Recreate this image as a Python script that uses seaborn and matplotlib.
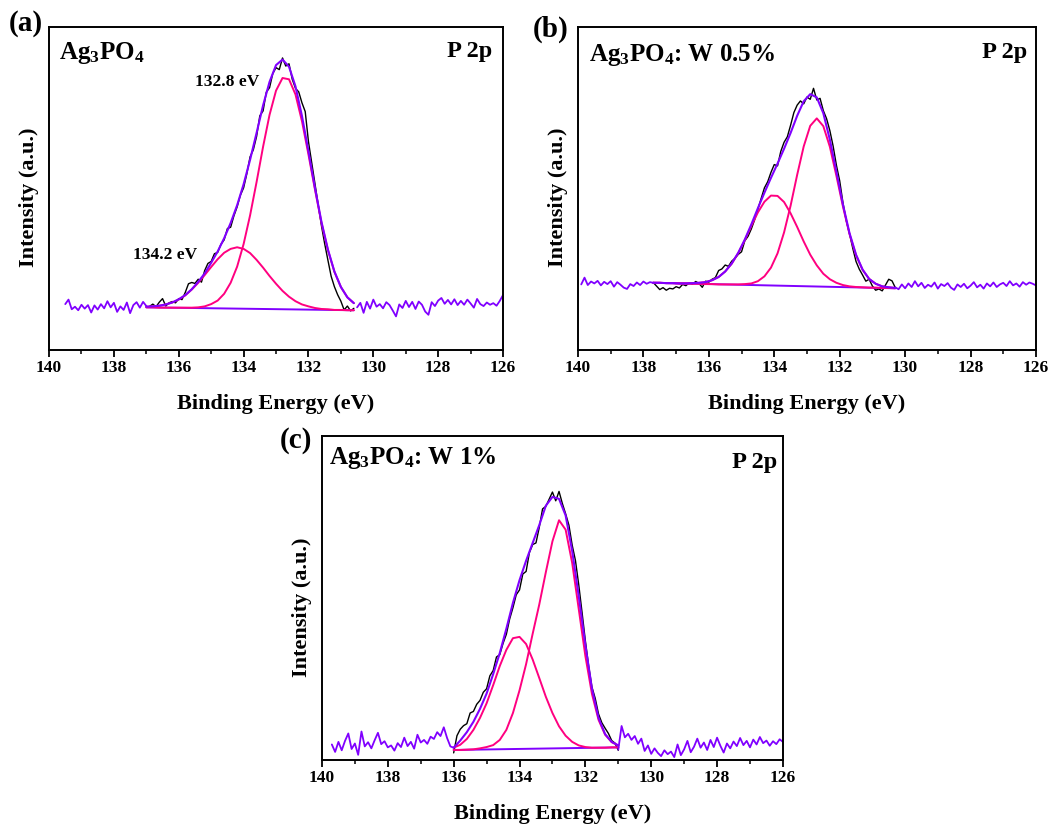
import numpy as np
import matplotlib
matplotlib.use('Agg')
import matplotlib.pyplot as plt
from matplotlib.ticker import MultipleLocator
import seaborn as sns

# Datos (intensidad en unidades arbitrarias, 0-100 = alto del eje)
# Cada serie: energia inicial, paso (eV, hacia energias menores) y valores

# ---- (a) Ag3PO4 ----
a_fit_start, a_fit_step = 137.0, 0.2
a_peak1 = [13.2, 13.2, 13.1, 13.1, 13.1, 13.1, 13.1, 13.1, 13.2, 13.5, 14.2, 15.3, 17.4, 20.8, 25.8, 32.8, 41.7,
           52.0, 62.9, 72.8, 80.3, 84.2, 83.8, 79.1, 70.8, 60.5, 49.7, 39.4, 30.9, 24.2, 19.5, 16.3, 14.5]
a_peak2 = [13.4, 13.5, 13.7, 14.1, 14.7, 15.6, 16.9, 18.7, 20.8, 23.2, 25.7, 28.1, 30.1, 31.3, 31.8, 31.3, 30.0,
           27.9, 25.5, 22.9, 20.5, 18.3, 16.5, 15.1, 14.1, 13.5, 13.0, 12.7, 12.6, 12.4, 12.4, 12.3, 12.3]
a_envelope = [13.4, 13.5, 13.7, 14.1, 14.7, 15.7, 17.0, 18.8, 21.1, 23.7, 27.0, 30.5, 34.6, 39.3, 44.8, 51.3, 58.9,
              67.2, 75.7, 83.0, 88.2, 89.9, 87.7, 81.6, 72.4, 61.5, 50.2, 39.7, 31.1, 24.3, 19.5, 16.3, 14.5]
a_baseline_x = [137.0, 130.6]
a_baseline_y = [13.2, 12.3]
a_raw_start = 136.9
a_raw = [13.5, 14.2, 13.4, 14.8, 15.9, 13.6, 14.6, 15.0, 14.6, 15.9, 15.6, 17.8, 20.5, 20.9, 20.6, 21.9, 21.0,
         24.6, 26.8, 27.4, 29.8, 30.2, 32.7, 34.1, 37.6, 38.0, 41.5, 44.3, 47.9, 50.2, 54.6, 59.8, 62.0, 66.1,
         72.5, 74.0, 79.8, 81.2, 85.6, 87.4, 86.8, 90.4, 87.9, 88.6, 83.8, 81.0, 79.9, 76.5, 73.8, 64.5, 58.0,
         51.5, 45.0, 38.5, 32.9, 27.8, 22.8, 19.6, 17.1, 15.1, 12.4, 13.6, 12.1, 12.9]
a_bg_left_start = 139.5
a_bg_left = [14.2, 15.6, 12.6, 13.4, 12.3, 14.0, 12.8, 13.9, 11.6, 13.8, 12.5, 14.2, 12.9, 15.1, 13.2, 14.6,
             11.8, 13.5, 12.4, 14.7, 11.4, 13.9, 14.8, 13.1, 14.9, 13.6]
a_bg_right_start = 130.5
a_bg_right = [13.2, 14.6, 11.5, 14.9, 12.8, 15.6, 13.4, 14.2, 12.9, 14.8, 13.9, 12.2, 10.4, 14.1, 13.0, 15.2,
              13.3, 14.9, 12.7, 15.0, 14.0, 11.9, 10.9, 14.8, 13.6, 15.3, 16.1, 14.3, 15.5, 14.1, 15.7, 13.9,
              15.2, 14.0, 15.6, 14.4, 13.1, 15.8, 14.2, 13.6, 14.7, 14.0, 14.5, 13.7, 15.2, 17.0]

# ---- (b) Ag3PO4: W 0.5% ----
b_fit_start, b_fit_step = 137.7, 0.2
b_peak1 = [20.8, 20.8, 20.7, 20.7, 20.6, 20.6, 20.5, 20.5, 20.4, 20.4, 20.3, 20.3, 20.3, 20.3, 20.4, 20.6, 21.3,
           22.8, 25.5, 29.9, 36.4, 44.7, 54.2, 63.0, 69.4, 71.7, 69.3, 62.9, 53.9, 44.4, 35.9, 29.3, 24.8, 22.0,
           20.5, 19.7, 19.4, 19.2]
b_peak2 = [20.8, 20.8, 20.7, 20.7, 20.6, 20.6, 20.7, 20.8, 21.0, 21.6, 22.6, 24.3, 26.7, 30.0, 34.0, 38.4, 42.6,
           45.9, 47.8, 47.7, 45.8, 42.3, 38.1, 33.6, 29.5, 26.2, 23.6, 21.9, 20.8, 20.1, 19.7, 19.5, 19.4, 19.3,
           19.3, 19.2, 19.2, 19.1]
b_envelope = [20.8, 20.8, 20.7, 20.7, 20.6, 20.6, 20.7, 20.8, 21.0, 21.6, 22.6, 24.3, 26.8, 30.1, 34.2, 38.9,
              43.9, 48.7, 53.3, 57.7, 62.3, 67.2, 72.5, 77.0, 79.2, 78.2, 73.3, 65.1, 55.2, 45.0, 36.2, 29.5,
              24.9, 22.0, 20.5, 19.7, 19.4, 19.2]
b_baseline_x = [137.7, 130.3]
b_baseline_y = [20.8, 19.1]
b_raw_start = 137.7
b_raw = [20.9, 19.8, 18.7, 19.3, 18.5, 19.1, 18.9, 19.6, 19.2, 20.3, 19.9, 20.8, 20.4, 21.2, 20.6, 19.4, 21.3,
         21.0, 21.9, 22.4, 24.6, 25.1, 26.3, 25.9, 27.5, 28.4, 29.6, 30.4, 33.8, 35.2, 37.5, 40.3, 43.6, 46.9,
         50.2, 52.1, 55.0, 57.4, 57.0, 61.5, 64.3, 66.0, 69.6, 73.5, 75.8, 77.1, 76.2, 78.3, 77.6, 81.0, 77.4,
         77.9, 74.1, 71.6, 67.9, 63.1, 57.2, 52.4, 45.6, 40.1, 36.0, 31.5, 27.4, 25.0, 23.2, 21.3, 21.9, 19.8,
         18.5, 18.9, 18.3, 20.1, 21.9, 21.4, 19.3]
b_bg_left_start = 139.9
b_bg_left = [20.3, 22.4, 20.1, 21.2, 20.6, 21.4, 20.0, 21.1, 20.4, 21.3, 19.6, 21.0, 20.2, 19.3, 18.9, 20.4,
             19.8, 20.9, 20.1, 21.2, 20.5, 21.0, 20.8]
b_bg_right_start = 130.3
b_bg_right = [19.4, 18.8, 20.3, 19.1, 20.6, 19.5, 21.3, 19.7, 20.8, 19.2, 20.2, 19.6, 20.9, 19.0, 20.4, 19.8,
              20.7, 19.3, 18.6, 20.3, 19.5, 20.5, 19.1, 19.9, 21.0, 19.4, 20.2, 19.0, 20.6, 19.7, 20.9, 19.5,
              20.3, 20.8, 19.8, 21.3, 20.0, 20.6, 19.6, 21.0, 20.2, 20.9, 20.5, 20.0]

# ---- (c) Ag3PO4: W 1% ----
c_fit_start, c_fit_step = 136.0, 0.2
c_peak1 = [3.1, 3.1, 3.2, 3.3, 3.6, 4.0, 4.6, 6.2, 9.3, 14.5, 21.5, 29.6, 39.0, 48.0, 58.0, 67.5, 74.0, 71.1,
           60.8, 46.5, 32.1, 20.4, 12.4, 7.8, 5.5, 4.5]
c_peak2 = [3.8, 4.7, 6.5, 9.3, 13.0, 17.5, 23.1, 29.0, 34.0, 37.6, 38.0, 35.8, 31.0, 25.3, 19.5, 14.5, 10.4,
           7.5, 5.6, 4.5, 4.0, 3.8, 3.8, 3.8, 3.9, 3.9]
c_envelope = [3.8, 6.0, 8.6, 11.8, 15.8, 20.5, 26.5, 33.0, 40.5, 48.5, 55.5, 61.5, 67.0, 72.5, 78.5, 81.2,
              80.6, 75.5, 64.5, 50.5, 35.5, 22.0, 13.0, 8.0, 5.6, 4.5]
c_baseline_x = [136.0, 131.0]
c_baseline_y = [3.1, 3.9]
c_raw_start = 136.0
c_raw = [2.2, 7.5, 9.5, 10.6, 11.2, 14.5, 15.0, 17.2, 18.4, 20.9, 22.0, 26.0, 27.6, 31.8, 32.5, 36.0, 38.8,
         43.5, 47.0, 51.0, 52.5, 57.4, 58.2, 64.0, 66.5, 67.0, 71.8, 77.5, 78.3, 80.5, 82.7, 80.0, 82.9, 79.2,
         76.0, 72.5, 66.3, 61.5, 54.0, 45.5, 36.8, 29.0, 22.5, 19.0, 14.2, 11.5, 9.8, 8.2, 6.0, 5.2, 3.0]
c_bg_left_start = 139.7
c_bg_left = [4.8, 2.5, 5.6, 3.0, 5.9, 8.2, 3.4, 5.1, 1.6, 8.8, 4.2, 5.5, 3.6, 6.1, 8.4, 4.9, 5.8, 3.9, 4.5,
             2.9, 5.2, 4.0, 6.9, 4.3, 5.6, 3.5, 7.8, 5.4, 6.2, 5.0, 7.2, 6.5, 8.6, 7.4, 10.1, 6.8, 4.2, 3.8]
c_bg_right_start = 131.0
c_bg_right = [3.2, 10.5, 7.0, 8.1, 6.2, 7.4, 5.0, 6.6, 2.8, 4.5, 1.9, 3.6, 2.2, 1.2, 3.0, 1.8, 2.6, 0.9, 4.8,
              1.5, 3.3, 5.9, 2.4, 4.1, 6.6, 3.8, 5.4, 3.1, 6.2, 4.0, 6.9, 4.4, 2.3, 5.1, 3.6, 5.7, 4.3, 6.8,
              4.6, 5.9, 3.9, 6.3, 4.8, 7.1, 5.2, 6.0, 4.4, 5.8, 4.9, 6.4, 5.6]

# Estilo
sns.set_style('ticks')
plt.rcParams['font.family'] = ['Liberation Serif', 'DejaVu Serif']
plt.rcParams['font.weight'] = 'bold'
plt.rcParams['axes.labelweight'] = 'bold'
plt.rcParams['mathtext.default'] = 'regular'
plt.rcParams['text.color'] = 'black'
plt.rcParams['axes.labelcolor'] = 'black'
plt.rcParams['xtick.color'] = 'black'

BLACK = '#000000'
VIOLET = '#8000FF'
MAGENTA = '#FF0080'


def energies(start, step, n):
    return np.round(start - step * np.arange(n), 2)


def draw(ax, x, y, color, lw):
    sns.lineplot(x=np.asarray(x), y=np.asarray(y), ax=ax, color=color, lw=lw,
                 estimator=None, sort=False)


def plot_panel(ax, p, title):
    x_fit = energies(p['fit_start'], p['fit_step'], len(p['peak1']))
    draw(ax, energies(p['raw_start'], 0.1, len(p['raw'])), p['raw'], BLACK, 1.0)
    draw(ax, p['baseline_x'], p['baseline_y'], VIOLET, 1.4)
    draw(ax, x_fit, p['peak1'], MAGENTA, 1.4)
    draw(ax, x_fit, p['peak2'], MAGENTA, 1.4)
    draw(ax, energies(p['bg_left_start'], 0.1, len(p['bg_left'])), p['bg_left'], VIOLET, 1.3)
    draw(ax, energies(p['bg_right_start'], 0.1, len(p['bg_right'])), p['bg_right'], VIOLET, 1.3)
    draw(ax, x_fit, p['envelope'], VIOLET, 1.5)

    ax.set_xlim(140, 126)
    ax.set_ylim(0, 100)
    ax.set_yticks([])
    ax.xaxis.set_major_locator(MultipleLocator(2))
    ax.xaxis.set_minor_locator(MultipleLocator(1))
    ax.tick_params(axis='x', which='major', direction='out', length=5, width=1.3, labelsize=12.5, pad=2)
    ax.tick_params(axis='x', which='minor', direction='out', length=3, width=1.1)
    for s in ax.spines.values():
        s.set_linewidth(1.4)
        s.set_color('black')
    ax.set_xlabel('Binding Energy (eV)', fontsize=16, labelpad=13)
    ax.set_ylabel('Intensity (a.u.)', fontsize=16, labelpad=7)
    ax.yaxis.label.set_y(p['ylab_y'])
    ax.text(p['title_x'], p['title_y'], title, transform=ax.transAxes, fontsize=18,
            ha='left', va='center')
    ax.text(p['p2p_x'], p['p2p_y'], 'P 2p', transform=ax.transAxes, fontsize=17.5,
            ha='right', va='center')


panel_a = dict(fit_start=a_fit_start, fit_step=a_fit_step, peak1=a_peak1, peak2=a_peak2, envelope=a_envelope,
               baseline_x=a_baseline_x, baseline_y=a_baseline_y, raw_start=a_raw_start, raw=a_raw,
               bg_left_start=a_bg_left_start, bg_left=a_bg_left, bg_right_start=a_bg_right_start,
               bg_right=a_bg_right, title_x=0.022, title_y=0.918, p2p_x=0.976, p2p_y=0.925, ylab_y=0.474)
panel_b = dict(fit_start=b_fit_start, fit_step=b_fit_step, peak1=b_peak1, peak2=b_peak2, envelope=b_envelope,
               baseline_x=b_baseline_x, baseline_y=b_baseline_y, raw_start=b_raw_start, raw=b_raw,
               bg_left_start=b_bg_left_start, bg_left=b_bg_left, bg_right_start=b_bg_right_start,
               bg_right=b_bg_right, title_x=0.024, title_y=0.913, p2p_x=0.98, p2p_y=0.92, ylab_y=0.474)
panel_c = dict(fit_start=c_fit_start, fit_step=c_fit_step, peak1=c_peak1, peak2=c_peak2, envelope=c_envelope,
               baseline_x=c_baseline_x, baseline_y=c_baseline_y, raw_start=c_raw_start, raw=c_raw,
               bg_left_start=c_bg_left_start, bg_left=c_bg_left, bg_right_start=c_bg_right_start,
               bg_right=c_bg_right, title_x=0.015, title_y=0.933, p2p_x=0.987, p2p_y=0.918, ylab_y=0.472)

fig = plt.figure(figsize=(10.57, 8.27), dpi=100)
ax_a = fig.add_axes([0.0464, 0.5768, 0.4295, 0.3906])
ax_b = fig.add_axes([0.5468, 0.5768, 0.4333, 0.3906])
ax_c = fig.add_axes([0.3046, 0.0810, 0.4361, 0.3918])

plot_panel(ax_a, panel_a, r'Ag$_{3}$PO$_{4}$')
plot_panel(ax_b, panel_b, r'Ag$_{3}$PO$_{4}$: W 0.5%')
plot_panel(ax_c, panel_c, r'Ag$_{3}$PO$_{4}$: W 1%')

# Posiciones de los picos en (a)
ax_a.text(134.5, 83.0, '132.8 eV', fontsize=12.5, ha='center', va='center')
ax_a.text(136.42, 29.4, '134.2 eV', fontsize=12.5, ha='center', va='center')

# Etiquetas de panel
fig.text(0.0246, 0.971, '(a)', fontsize=21, ha='center', va='center')
fig.text(0.521, 0.965, '(b)', fontsize=21, ha='center', va='center')
fig.text(0.280, 0.467, '(c)', fontsize=21, ha='center', va='center')

fig.savefig('out.png', dpi=100)
plt.close(fig)
